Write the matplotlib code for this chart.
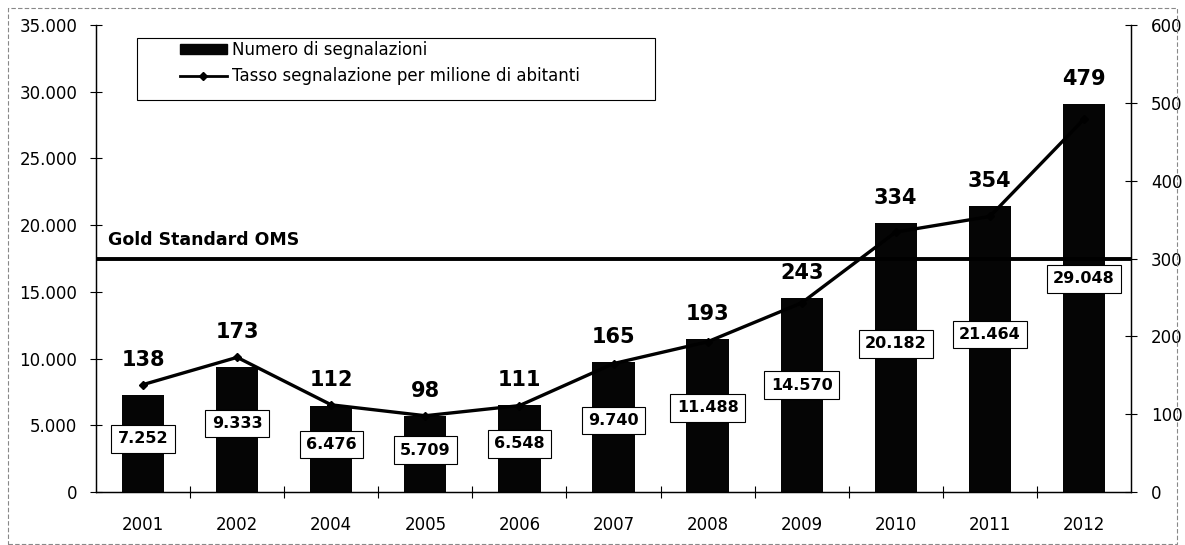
import matplotlib
matplotlib.use("Agg")
import matplotlib.pyplot as plt
from matplotlib.ticker import FuncFormatter, FixedLocator
from matplotlib.patches import Rectangle, Patch
from matplotlib.lines import Line2D

plt.rcParams['font.family'] = ['DejaVu Sans']

years = ["2001", "2002", "2004", "2005", "2006", "2007", "2008", "2009", "2010", "2011", "2012"]
segnalazioni = [7252, 9333, 6476, 5709, 6548, 9740, 11488, 14570, 20182, 21464, 29048]
tasso = [138, 173, 112, 98, 111, 165, 193, 243, 334, 354, 479]
gold_standard = 300
legend_labels = ["Numero di segnalazioni", "Tasso segnalazione per milione di abitanti"]
gold_label = "Gold Standard OMS"

LEFT_MAX = 35000
RIGHT_MAX = 600


def it_fmt(v):
    return f"{int(round(v)):,}".replace(",", ".")


fig = plt.figure(figsize=(11.85, 5.45), dpi=100)
ax = fig.add_axes([96 / 1185, 1 - 492 / 545, (1131 - 96) / 1185, (492 - 25) / 545])
ax2 = ax.twinx()

x = list(range(len(years)))
ax.bar(x, segnalazioni, width=0.45, color="#050505", zorder=2)
ax.set_xlim(-0.5, len(years) - 0.5)
ax.set_ylim(0, LEFT_MAX)
ax.set_yticks(range(0, LEFT_MAX + 1, 5000))
ax.yaxis.set_major_formatter(FuncFormatter(lambda v, p: it_fmt(v)))
ax.set_xticks(x)
ax.set_xticklabels(years, fontsize=12)
ax.xaxis.set_minor_locator(FixedLocator([i + 0.5 for i in x[:-1]]))
ax.tick_params(axis="x", which="major", length=0, pad=17)
ax.tick_params(axis="x", which="minor", direction="inout", length=9, width=0.8)
ax.tick_params(axis="y", direction="inout", length=9, width=0.8, labelsize=12, pad=9)

ax2.set_ylim(0, RIGHT_MAX)
ax2.set_yticks(range(0, RIGHT_MAX + 1, 100))
ax2.tick_params(axis="y", direction="inout", length=9, width=0.8, labelsize=12, pad=10)

for a in (ax, ax2):
    a.spines["top"].set_visible(False)
    for s in ("left", "right", "bottom"):
        a.spines[s].set_linewidth(0.9)

ax2.plot(x, tasso, color="black", lw=2.4, marker="D", markersize=4, zorder=3)
ax2.axhline(gold_standard, color="black", lw=2.8, zorder=3)
ax2.annotate(gold_label, xy=(0.012, gold_standard), xycoords=("axes fraction", "data"),
             xytext=(0, 7), textcoords="offset points", fontsize=12.5, fontweight="bold",
             va="bottom", ha="left")

# rate labels above the higher of the point and the bar top
for xi, t, v in zip(x, tasso, segnalazioni):
    top = max(t, v / LEFT_MAX * RIGHT_MAX)
    ax2.annotate(str(t), xy=(xi, top), xytext=(0, 18), textcoords="offset points",
                 ha="center", va="center", fontsize=15, fontweight="bold", zorder=5)

for xi, v in zip(x, segnalazioni):
    ax2.text(xi, v * 0.55, it_fmt(v), transform=ax.transData, ha="center", va="center",
             fontsize=11.5, fontweight="bold", zorder=6,
             bbox=dict(boxstyle="square,pad=0.4", facecolor="white", edgecolor="black", lw=0.8))

# legend with a wide frame drawn separately
ax2.add_patch(Rectangle((41 / 1035, (492 - 100) / 467), (655 - 137) / 1035, 62 / 467,
                        transform=ax2.transAxes, facecolor="white", edgecolor="black",
                        lw=0.8, zorder=7, clip_on=False))
handles = [Patch(facecolor="#050505", edgecolor="#050505"),
           Line2D([0], [0], color="black", lw=2, marker="D", markersize=4)]
leg = ax2.legend(handles, legend_labels, loc="upper left",
                 bbox_to_anchor=((180 - 96) / 1035, (492 - 41) / 467),
                 fontsize=12, frameon=False, borderpad=0, borderaxespad=0,
                 handlelength=2.8, handleheight=0.6, labelspacing=0.5,
                 handletextpad=0.3)
leg.set_zorder(8)

fig.patches.append(Rectangle((8 / 1185, 0.002), 1 - 16 / 1185, 1 - 8 / 545 - 0.002,
                             transform=fig.transFigure, fill=False, edgecolor="#888888",
                             lw=0.8, ls=(0, (4, 2))))

fig.savefig("out.png", dpi=100)
